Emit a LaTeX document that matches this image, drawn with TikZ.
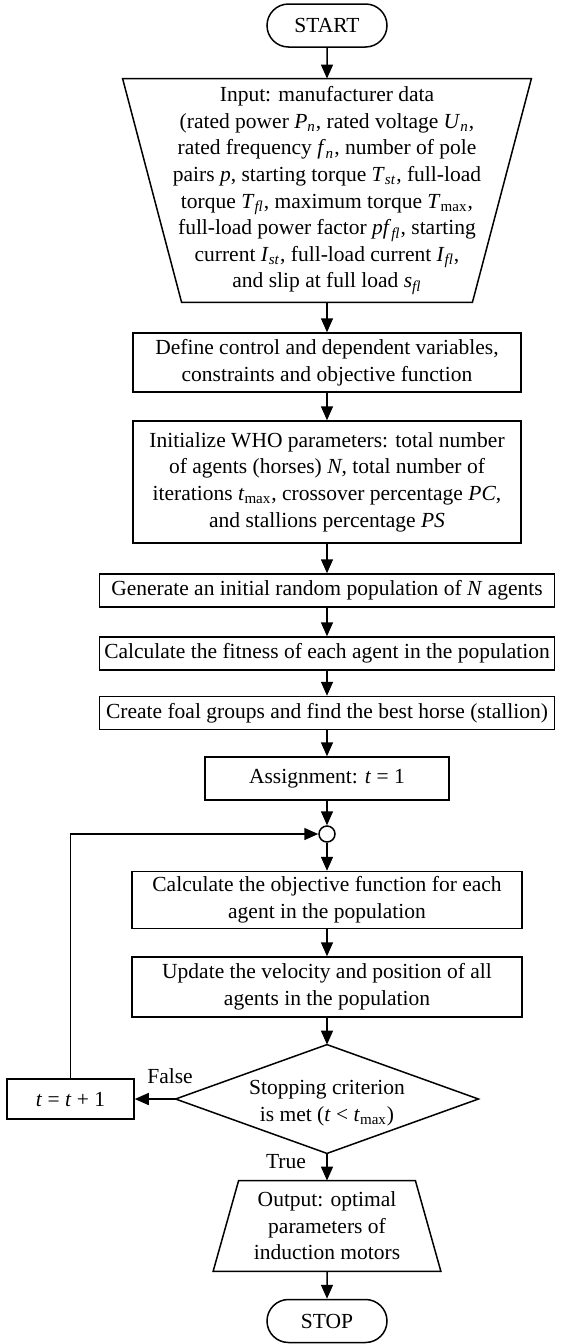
\documentclass[tikz,border=0pt]{standalone}
\usepackage{fontspec}
\setmainfont{Liberation Serif}
\usetikzlibrary{arrows.meta,shapes.misc,shapes.geometric}
\newcommand{\vi}[1]{\textit{#1}}
\newcommand{\sbi}[1]{\textsubscript{\textit{#1}}}
\newcommand{\sbr}[1]{\textsubscript{#1}}
\tikzset{
  base/.style={inner sep=0pt, align=center, font=\fontsize{10.75}{13.3}\selectfont},
  procbox/.style={base, draw, line width=0.75pt},
  holder/.style={base},
  term/.style={base, draw, line width=0.75pt, rounded rectangle, minimum width=60pt, minimum height=21.5pt},
  junction/.style={draw, line width=0.75pt, circle, fill=white, minimum size=8pt, inner sep=0pt},
  arr/.style={line width=0.75pt, -{Triangle[length=7pt,width=6pt]}},
  outline/.style={line width=0.75pt, line join=miter},
  lbl/.style={base}
}
\begin{document}
\begin{tikzpicture}[x=0.5pt,y=-0.5pt]
\useasboundingbox (0,0) rectangle (572,1344);
\node[term] (start) at (327,25.5) {START};
\node[holder, minimum width=204pt, minimum height=111.5pt] (input) at (327,190.5) {Input: manufacturer data\\
(rated power \vi{P}\sbi{n}, rated voltage \vi{U}\sbi{n},\\
rated frequency \vi{f}\sbi{n}, number of pole\\
pairs \vi{p}, starting torque \vi{T}\sbi{st}, full-load\\
torque \vi{T}\sbi{fl}, maximum torque \vi{T}\sbr{max},\\
full-load power factor \vi{pf}\sbi{fl}, starting\\
current \vi{I}\sbi{st}, full-load current \vi{I}\sbi{fl},\\
and slip at full load \vi{s}\sbi{fl}};
\draw[outline] (input.north west) -- (input.north east) -- ([xshift=-29.5pt]input.south east) -- ([xshift=29.5pt]input.south west) -- cycle;
\node[procbox, minimum width=194pt, minimum height=29.5pt] (define) at (327,362.5) {Define control and dependent variables,\\ constraints and objective function};
\node[procbox, minimum width=194pt, minimum height=61pt] (init) at (327,482) {Initialize WHO parameters: total number\\ of agents (horses) \vi{N}, total number of\\ iterations \vi{t}\sbr{max}, crossover percentage \vi{PC},\\ and stallions percentage \vi{PS}};
\node[procbox, minimum width=227.5pt, minimum height=16.5pt] (gen) at (327,590.5) {Generate an initial random population of \vi{N} agents};
\node[procbox, minimum width=227.5pt, minimum height=16.5pt] (fit) at (327,653.5) {Calculate the fitness of each agent in the population};
\node[procbox, minimum width=227.5pt, minimum height=16.5pt] (create) at (327,713) {Create foal groups and find the best horse (stallion)};
\node[procbox, minimum width=122pt, minimum height=21.5pt] (assign) at (327,778.5) {Assignment: \vi{t} = 1};
\node[junction] (junc) at (327,834) {};
\node[procbox, minimum width=195pt, minimum height=28.5pt] (calc) at (327,900) {Calculate the objective function for each\\ agent in the population};
\node[procbox, minimum width=195pt, minimum height=30pt] (update) at (327,987) {Update the velocity and position of all\\ agents in the population};
\node[holder, minimum width=151pt, minimum height=54pt] (dm) at (327,1099) {};
\draw[outline] (dm.north) -- (dm.east) -- (dm.south) -- (dm.west) -- cycle;
\node[holder] (dmtext) at (327,1103) {Stopping criterion\\ is met (\vi{t} < \vi{t}\sbr{max})};
\node[procbox, minimum width=63.5pt, minimum height=20pt] (tinc) at (70.5,1099) {\vi{t} = \vi{t} + 1};
\node[holder, minimum width=113.5pt, minimum height=45pt] (out) at (327,1226) {Output: optimal\\ parameters of\\ induction motors};
\draw[outline] ([xshift=12.75pt]out.north west) -- ([xshift=-12.75pt]out.north east) -- (out.south east) -- (out.south west) -- cycle;
\node[term] (stop) at (327,1321) {STOP};
\node[lbl] (false) at (170,1076) {False};
\node[lbl] (true) at (286,1162) {True};
\draw[arr] (start) -- (input.north);
\draw[arr] (input.south) -- (define);
\draw[arr] (define) -- (init);
\draw[arr] (init) -- (gen);
\draw[arr] (gen) -- (fit);
\draw[arr] (fit) -- (create);
\draw[arr] (create) -- (assign);
\draw[arr] (assign) -- (junc);
\draw[arr] (junc) -- (calc);
\draw[arr] (calc) -- (update);
\draw[arr] (update) -- (dm.north);
\draw[arr] (dm.west) -- (tinc.east);
\draw[arr] (tinc.north) |- (junc.west);
\draw[arr] (dm.south) -- (out.north);
\draw[arr] (out.south) -- (stop);
\end{tikzpicture}
\end{document}
